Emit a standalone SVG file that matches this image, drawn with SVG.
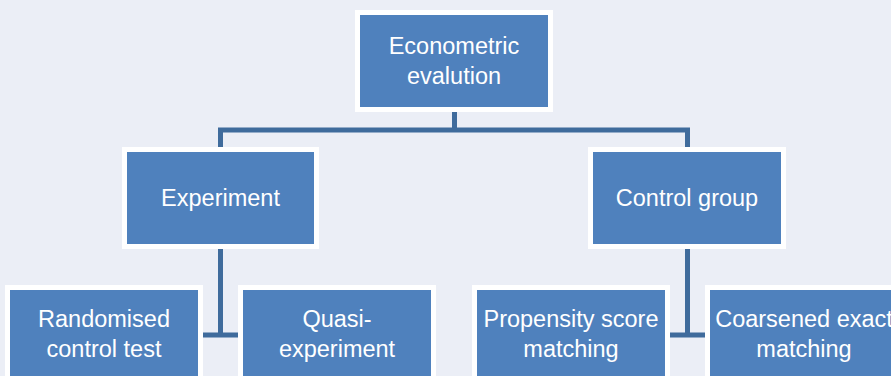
<svg xmlns="http://www.w3.org/2000/svg" width="891" height="376" viewBox="0 0 891 376">
<style>
.node rect{fill:#4F81BD;stroke:#FFFFFF;stroke-width:5}
.node text{fill:#FFFFFF;font-family:"Liberation Sans","Open Sans",Arial,sans-serif;font-size:23.5px;text-anchor:middle}
.conn path{fill:none;stroke:#3F6B9C;stroke-width:5;stroke-linejoin:miter}
</style>
<rect x="0" y="0" width="891" height="376" fill="#EBEEF6"/>
<g id="connectors" class="conn">
<path d="M454.5,107 V130"/>
<path d="M220.5,152 V130 H687.5 V152"/>
<path d="M220.5,244 V335 M198,335 H243"/>
<path d="M687.5,244 V335 M665,335 H710"/>
</g>
<g id="econometric" class="node">
<rect x="357.5" y="12.5" width="193" height="97"/>
<text x="454" y="54">Econometric</text>
<text x="454" y="84">evalution</text>
</g>
<g id="experiment" class="node">
<rect x="124.5" y="149.5" width="192" height="97"/>
<text x="220.5" y="206">Experiment</text>
</g>
<g id="control-group" class="node">
<rect x="590.5" y="149.5" width="193" height="97"/>
<text x="687" y="206">Control group</text>
</g>
<g id="randomised" class="node">
<rect x="7.5" y="287.5" width="193" height="97"/>
<text x="104" y="327">Randomised</text>
<text x="104" y="357">control test</text>
</g>
<g id="quasi" class="node">
<rect x="240.5" y="287.5" width="193" height="97"/>
<text x="337" y="327">Quasi-</text>
<text x="337" y="357">experiment</text>
</g>
<g id="propensity" class="node">
<rect x="474.5" y="287.5" width="193" height="97"/>
<text x="571" y="327">Propensity score</text>
<text x="571" y="357">matching</text>
</g>
<g id="coarsened" class="node">
<rect x="707.5" y="287.5" width="193" height="97"/>
<text x="804" y="327">Coarsened exact</text>
<text x="804" y="357">matching</text>
</g>
</svg>
